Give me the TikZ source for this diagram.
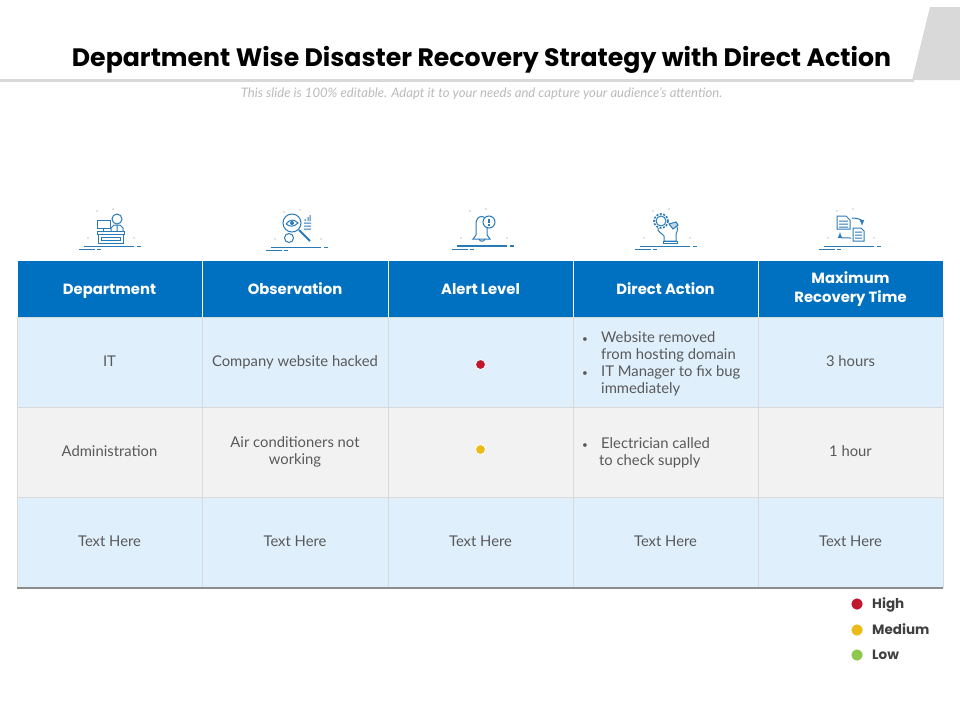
\documentclass[tikz,border=0pt]{standalone}
\usepackage{fontspec}
\setmainfont{Lato}
\newfontfamily\titlefont{Poppins}
\usetikzlibrary{positioning}
\definecolor{headblue}{HTML}{0070C0}
\definecolor{rowblue}{HTML}{DFEFFC}
\definecolor{rowgray}{HTML}{F2F2F2}
\definecolor{linegray}{HTML}{D9D9D9}
\definecolor{inkgray}{HTML}{595959}
\definecolor{iconblue}{HTML}{2A7AB8}
\definecolor{alertred}{HTML}{C0192F}
\definecolor{alertyellow}{HTML}{EBBB17}
\definecolor{alertgreen}{HTML}{8CC84B}
\newcommand{\headstrut}{\leavevmode\rule[-4pt]{0pt}{18pt}}
\newcommand{\twolinestrut}{\leavevmode\rule[-4pt]{0pt}{15pt}}
\newcommand{\bodystrut}{\leavevmode\rule[-3.5pt]{0pt}{15pt}}
\tikzstyle{headcell}=[draw=white, fill=headblue, text=white, minimum height=58pt, inner sep=0pt, align=center, font=\titlefont\bfseries\fontsize{14.8}{19}\selectfont, execute at begin node=\headstrut]
\tikzstyle{bodycell}=[draw=linegray, minimum height=90pt, inner sep=0pt, align=center, text=inkgray, font=\fontsize{14.8}{17}\selectfont, execute at begin node=\bodystrut]
\tikzstyle{actiontext}=[anchor=base west, inner sep=0pt, text=inkgray, font=\fontsize{14.8}{17}\selectfont]
\tikzstyle{bullettext}=[anchor=base west, inner sep=0pt, text=inkgray, font=\fontsize{10}{12}\selectfont]
\tikzstyle{alertdot}=[circle, draw=white, line width=0.8pt, inner sep=0pt, minimum size=10pt]
\tikzstyle{legendtext}=[anchor=base west, inner sep=0pt, text=black!75, font=\titlefont\bfseries\fontsize{13.5}{16}\selectfont]
\tikzstyle{icon}=[iconblue, line width=1pt]
\newcommand{\iconbase}[3]{
  \draw[iconblue, line width=#3] (#1-25,#2) -- (#1+25,#2);
  \draw[iconblue, line width=0.8pt] (#1-30,#2+3.5) -- (#1-14,#2+3.5) (#1-12,#2+3.5) -- (#1-8,#2+3.5);
  \draw[iconblue, line width=#3] (#1+28,#2) -- (#1+32,#2);
  \fill[linegray] (#1-12,#2-35) circle (1.2) (#1+4,#2-37) circle (1.2) (#1-21,#2-8) circle (1.2) (#1+25,#2-8) circle (1.2);
}
\newcommand{\tablerow}[8]{
  \node[bodycell, fill=#3, minimum width=185pt] (#1a) at (109.5,#2) {#4};
  \node[bodycell, fill=#3, minimum width=186pt] (#1b) at (295,#2) {#5};
  \node[bodycell, fill=#3, minimum width=185pt] (#1c) at (480.5,#2) {#6};
  \node[bodycell, fill=#3, minimum width=185pt] (#1d) at (665.5,#2) {#7};
  \node[bodycell, fill=#3, minimum width=185pt] (#1e) at (850.5,#2) {#8};
}

\begin{document}
\begin{tikzpicture}[x=1pt, y=-1pt]
    \useasboundingbox (0,0) rectangle (960,720);
    % title band
    \fill[linegray] (0,79) rectangle (914,82);
    \fill[linegray] (912,80) -- (930,7) -- (960,7) -- (960,80) -- cycle;
    \node[inner sep=0pt, font=\titlefont\bfseries\fontsize{25.2}{28}\selectfont] (title) at (481.5,59.5) {Department Wise Disaster Recovery Strategy with Direct Action};
    \node[inner sep=0pt, text=black!27, font=\itshape\fontsize{13.1}{15}\selectfont] (subtitle) at (481.5,94) {This slide is 100\% editable. Adapt it to your needs and capture your audience's attention.};
    % header
    \node[headcell, minimum width=185pt] (department) at (109.5,289.5) {Department};
    \node[headcell, minimum width=186pt] (observation) at (295,289.5) {Observation};
    \node[headcell, minimum width=185pt] (alert) at (480.5,289.5) {Alert Level};
    \node[headcell, minimum width=185pt] (action) at (665.5,289.5) {Direct Action};
    \node[headcell, minimum width=185pt, execute at begin node=\twolinestrut] (recovery) at (850.5,289.5) {Maximum\\Recovery Time};
    % rows
    \tablerow{it}{362.5}{rowblue}{IT}{Company website hacked}{}{}{3 hours}
    \tablerow{admin}{452.5}{rowgray}{Administration}{Air conditioners not\\working}{}{}{1 hour}
    \tablerow{text}{542.5}{rowblue}{Text Here}{Text Here}{Text Here}{Text Here}{Text Here}
    \draw[black!45, line width=1.6pt] (texta.south west) -- (texte.south east);
    % direct action lines
    \node[bullettext] (bulleta) at (582,342) {•};
    \node[actiontext] (websitea) at (601,342) {Website removed};
    \node[actiontext] (websiteb) at (601,359) {from hosting domain};
    \node[bullettext] (bulletb) at (582,376) {•};
    \node[actiontext] (managera) at (601,376) {IT Manager to fix bug};
    \node[actiontext] (managerb) at (601,393) {immediately};
    \node[bullettext] (bulletc) at (582,448) {•};
    \node[actiontext] (electriciana) at (601,448) {Electrician called};
    \node[actiontext] (electricianb) at (599,465) {to check supply};
    % alert dots
    \node[alertdot, fill=alertred] (alerthigh) at (480.5,364.5) {};
    \node[alertdot, fill=alertyellow] (alertmedium) at (480.5,449.5) {};
    % legend
    \node[alertdot, fill=alertred, minimum size=12pt] (dothigh) at (857,604) {};
    \node[alertdot, fill=alertyellow, minimum size=12pt] (dotmedium) at (857,630) {};
    \node[alertdot, fill=alertgreen, minimum size=12pt] (dotlow) at (857,655) {};
    \node[legendtext] (high) at (872,608) {High};
    \node[legendtext] (medium) at (872,634) {Medium};
    \node[legendtext] (low) at (872,659) {Low};
    % icons
    \iconbase{109}{246}{0.8pt}
    \iconbase{296}{247}{0.8pt}
    \iconbase{482}{246}{1.5pt}
    \iconbase{665}{246}{0.8pt}
    \iconbase{849}{246}{0.8pt}
    % desk
    \draw[icon] (97,231) rectangle (124,234) (98,234) rectangle (123,243) (101,237) rectangle (120,240);
    \draw[icon] (97,220) rectangle (110,228) (103,228) -- (103,231);
    \draw[icon] (117,219) circle (5);
    \draw[icon] (111,231) -- (111,228) -- (114,225) -- (120,225) -- (123,228) -- (123,231) (117,225) -- (117,231);
    % magnifier
    \draw[icon] (292,223) circle (9);
    \draw[icon, line width=2pt] (299,230) -- (310,241);
    \draw[icon] (286,224) .. controls (290,219) and (294,219) .. (298,223) .. controls (294,227) and (290,227) .. (286,224);
    \fill[iconblue] (292,223) circle (2);
    \draw[icon] (289,238) circle (4.5) (304,223) -- (311,223) (304,226) -- (311,226) (304,229) -- (311,229) (305,219) -- (305,221) (308,217) -- (308,221) (310,215) -- (310,221);
    % bell
    \draw[icon] (473,239) -- (476,235) -- (476,224) .. controls (476,214) and (487,214) .. (487,224) -- (487,235) -- (490,239) -- cycle;
    \draw[icon] (479,239) .. controls (480,242) and (484,242) .. (485,239);
    \draw[icon, fill=white] (489,222) circle (6);
    \draw[icon, line width=1.4pt] (489,218.5) -- (489,222.5) (489,224) -- (489,225.5);
    % head with gear
    \draw[icon] (661,221) circle (5);
    \draw[icon, dashed, dash pattern=on 2pt off 1.5pt, line width=1.6pt] (661,221) circle (7);
    \draw[icon] (658,228) .. controls (657,232) and (662,233) .. (664,236) -- (664,241) -- (676,241) -- (676,234) .. controls (678,231) and (678,227) .. (675,222);
    \draw[icon] (663,241) rectangle (677,243);
    \draw[icon, fill=iconblue!30] (669,224) -- (676,222) -- (678,225) -- (673,229) -- cycle;
    % documents with arrows
    \draw[icon] (837,216) -- (846,216) -- (850,220) -- (850,229) -- (837,229) -- cycle (839,221) -- (848,221) (839,224) -- (848,224) (839,227) -- (848,227);
    \draw[icon] (853,228) -- (861,228) -- (864,231) -- (864,241) -- (853,241) -- cycle (855,232) -- (862,232) (855,235) -- (862,235) (855,238) -- (862,238);
    \draw[icon, -latex] (852,218) .. controls (858,218) and (862,220) .. (862,226);
    \draw[icon, -latex] (851,238) .. controls (845,238) and (840,238) .. (840,232);
  \end{tikzpicture}
\end{document}
